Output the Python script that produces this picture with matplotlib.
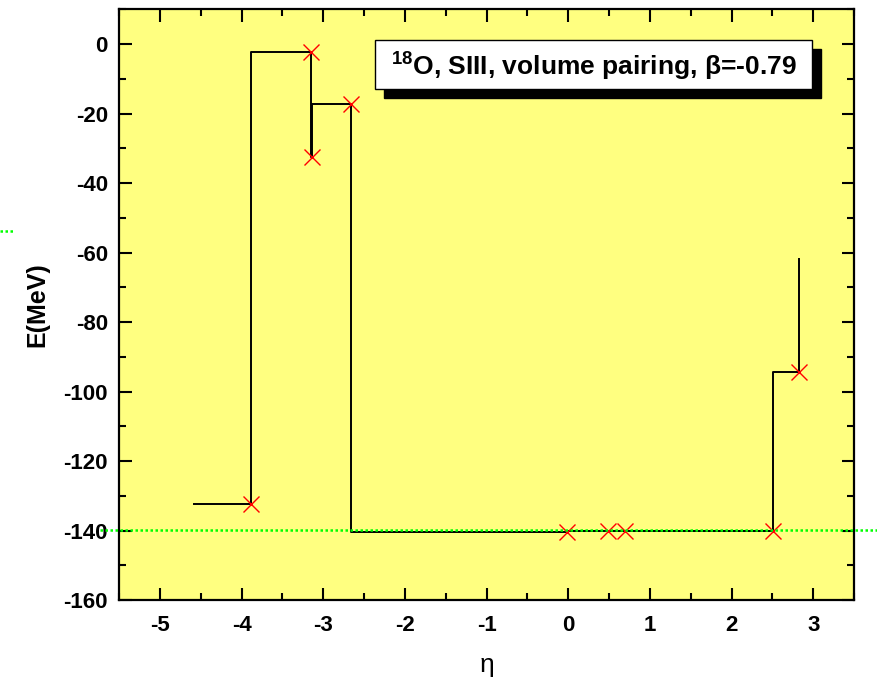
import matplotlib
matplotlib.use('Agg')
import matplotlib.pyplot as plt
from matplotlib.lines import Line2D
from matplotlib.patches import Rectangle
from matplotlib.ticker import MultipleLocator

plt.rcParams['font.family'] = ['Liberation Sans', 'DejaVu Sans']
plt.rcParams['axes.unicode_minus'] = False
plt.rcParams['mathtext.fontset'] = 'custom'
plt.rcParams['mathtext.rm'] = 'Liberation Sans:bold'
plt.rcParams['mathtext.bf'] = 'Liberation Sans:bold'

# calculated points (eta, energy)
eta_pts = [-3.88, -3.155, -3.14, -2.66, -0.02, 0.49, 0.69, 2.51, 2.83]
e_pts = [-132.4, -2.2, -32.4, -17.3, -140.5, -140.1, -140.1, -140.1, -94.3]

# step curve through the points
eta_step = [-4.58, -3.88, -3.155, -3.14, -2.66, -0.02, 0.49, 0.69, 2.51, 2.83, 2.83]
e_step = [-132.4, -132.4, -2.2, -32.4, -17.3, -140.5, -140.1, -140.1, -140.1, -94.3, -62.0]

e_ref = -139.9  # green dotted reference level

fig = plt.figure(figsize=(8.77, 6.87), dpi=100)
ax = fig.add_axes([0.1357, 0.1266, 0.9738 - 0.1357, 0.9865 - 0.1266])
ax.set_facecolor('#ffff80')

ax.plot(eta_step, e_step, drawstyle='steps-pre', color='black', lw=1.4, zorder=3)
ax.plot(eta_pts, e_pts, 'x', color='red', ms=11, mew=1.0, zorder=4)

ax.set_xlim(-5.5, 3.5)
ax.set_ylim(-160, 10)
ax.xaxis.set_major_locator(MultipleLocator(1))
ax.xaxis.set_minor_locator(MultipleLocator(0.5))
ax.yaxis.set_minor_locator(MultipleLocator(10))
ax.set_yticks(range(-160, 1, 20))
ax.tick_params(which='both', direction='in', top=True, right=True, width=1.5)
ax.tick_params(which='major', length=9)
ax.tick_params(which='minor', length=5)
ax.tick_params(axis='x', which='major', pad=11, labelsize=16)
ax.tick_params(axis='y', which='major', pad=8, labelsize=16)
for lab in ax.get_xticklabels() + ax.get_yticklabels():
    lab.set_fontweight('bold')
for sp in ax.spines.values():
    sp.set_linewidth(1.6)

ax.set_xlabel('η', fontsize=19, labelpad=12)
ax.set_ylabel('E(MeV)', fontsize=18, fontweight='bold', labelpad=10)

# green dotted line running past the axes
y_ref_fig = ax.transData.transform((0, e_ref))[1] / fig.bbox.height
fig.add_artist(Line2D([0.114, 1.0], [y_ref_fig] * 2, color='#00ff00',
                      lw=1.8, ls=(0, (1, 1)), transform=fig.transFigure, zorder=5))
fig.add_artist(Line2D([0.0, 0.017], [1 - 231 / 687] * 2, color='#00ff00',
                      lw=1.8, ls=(0, (1, 1)), transform=fig.transFigure))

# label box with shadow
bx, by, bw, bh = 375 / 877, 1 - 89 / 687, 437 / 877, 49 / 687
fig.add_artist(Rectangle((bx + 9 / 877, by - 9 / 687), bw, bh, facecolor='black',
                         edgecolor='black', transform=fig.transFigure, zorder=6))
fig.add_artist(Rectangle((bx, by), bw, bh, facecolor='white', edgecolor='black',
                         lw=1.0, transform=fig.transFigure, zorder=7))
fig.text(bx + bw / 2, by + bh / 2 - 0.002, r'$^{\mathbf{18}}$O, SIII, volume pairing, β=-0.79',
         ha='center', va='center', fontsize=19, fontweight='bold', zorder=8)

fig.savefig('out.png', dpi=100)
